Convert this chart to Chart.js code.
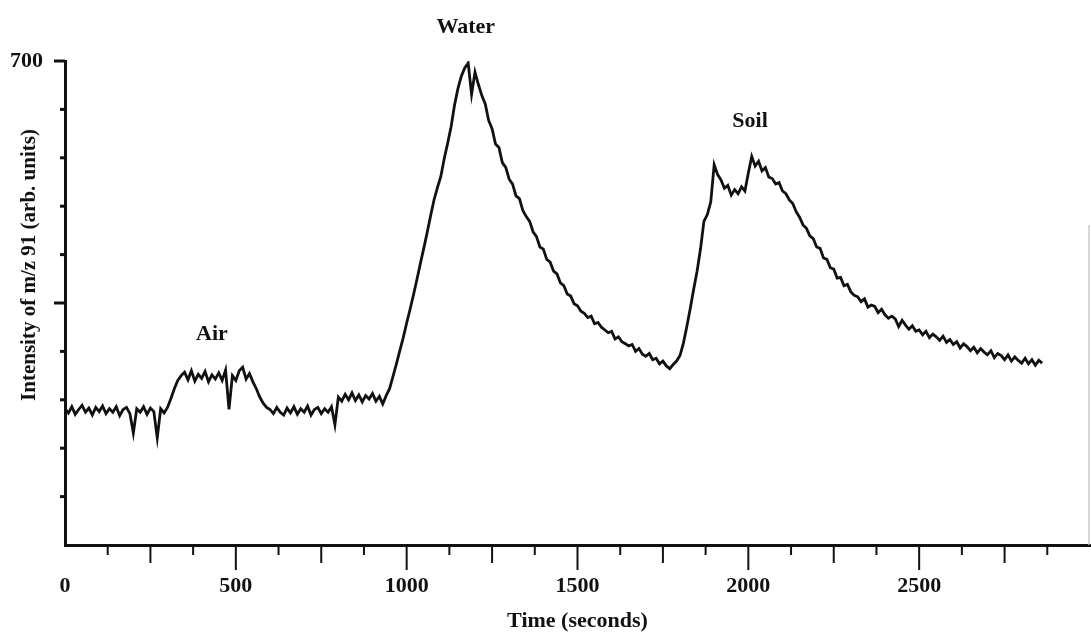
<!DOCTYPE html>
<html lang="en">
<head>
<meta charset="UTF-8">
<title>Intensity of m/z 91</title>
<script src="https://cdn.jsdelivr.net/npm/chart.js@4.4.0/dist/chart.umd.min.js"></script>
<style>
    * { margin: 0; padding: 0; box-sizing: border-box; }
    body { background: #fff; width: 1091px; height: 635px; overflow: hidden; }
    #trace { display: block; }
</style>
</head>
<body>
<canvas id="trace" width="1091" height="635"></canvas>

<script>
// sample times (s)
const timeSec = [
    0, 10, 20, 30, 40, 50, 60, 70, 80, 90, 100, 110, 120, 130, 140, 150, 160, 170, 180, 190,
    200, 210, 220, 230, 240, 250, 260, 270, 280, 290, 300, 310, 320, 330, 340, 350, 360, 370, 380, 390,
    400, 410, 420, 430, 440, 450, 460, 470, 480, 490, 500, 510, 520, 530, 540, 550, 560, 570, 580, 590,
    600, 610, 620, 630, 640, 650, 660, 670, 680, 690, 700, 710, 720, 730, 740, 750, 760, 770, 780, 790,
    800, 810, 820, 830, 840, 850, 860, 870, 880, 890, 900, 910, 920, 930, 940, 950, 960, 970, 980, 990,
    1000, 1010, 1020, 1030, 1040, 1050, 1060, 1070, 1080, 1090, 1100, 1110, 1120, 1130, 1140, 1150, 1160, 1170, 1180, 1190,
    1200, 1210, 1220, 1230, 1240, 1250, 1260, 1270, 1280, 1290, 1300, 1310, 1320, 1330, 1340, 1350, 1360, 1370, 1380, 1390,
    1400, 1410, 1420, 1430, 1440, 1450, 1460, 1470, 1480, 1490, 1500, 1510, 1520, 1530, 1540, 1550, 1560, 1570, 1580, 1590,
    1600, 1610, 1620, 1630, 1640, 1650, 1660, 1670, 1680, 1690, 1700, 1710, 1720, 1730, 1740, 1750, 1760, 1770, 1780, 1790,
    1800, 1810, 1820, 1830, 1840, 1850, 1860, 1870, 1880, 1890, 1900, 1910, 1920, 1930, 1940, 1950, 1960, 1970, 1980, 1990,
    2000, 2010, 2020, 2030, 2040, 2050, 2060, 2070, 2080, 2090, 2100, 2110, 2120, 2130, 2140, 2150, 2160, 2170, 2180, 2190,
    2200, 2210, 2220, 2230, 2240, 2250, 2260, 2270, 2280, 2290, 2300, 2310, 2320, 2330, 2340, 2350, 2360, 2370, 2380, 2390,
    2400, 2410, 2420, 2430, 2440, 2450, 2460, 2470, 2480, 2490, 2500, 2510, 2520, 2530, 2540, 2550, 2560, 2570, 2580, 2590,
    2600, 2610, 2620, 2630, 2640, 2650, 2660, 2670, 2680, 2690, 2700, 2710, 2720, 2730, 2740, 2750, 2760, 2770, 2780, 2790,
    2800, 2810, 2820, 2830, 2840, 2850, 2860
];

// m/z 91 intensity (arb. units)
const intensity = [
    // baseline
    197, 191, 200, 189, 196, 202, 192, 198, 188, 199, 193, 201, 190, 197, 192, 200, 187, 196, 199, 190,
    162, 197, 192, 200, 189, 198, 193, 155, 197, 191, 199,
    // air
    212, 226, 238, 245, 250, 239, 252, 237, 247, 241, 251, 236, 246, 240, 249, 238, 253, 196, 245, 238,
    252, 257, 240, 248, 236, 226, 214, 205, 199, 196,
    // baseline
    190, 199, 192, 188, 198, 191, 200, 189, 197, 192, 201, 188, 196, 199, 190, 197, 192, 200, 174,
    214, 208, 218, 210, 220, 209, 217, 207, 216, 211, 219, 208, 215, 204,
    // water
    216, 226, 244, 262, 281, 300, 321, 341, 362, 384, 407, 429, 452, 476, 499, 517, 533, 559, 581, 605,
    636, 660, 678, 690, 697,
    652, 684, 666, 650, 638, 614, 602, 580, 575, 553, 546, 529, 522, 505, 501, 484, 475, 468, 453, 446,
    431, 428, 413, 409, 396, 392, 379, 375, 363, 360, 349,
    346, 338, 335, 329, 331, 320, 322, 315, 311, 307, 309, 298, 301, 294, 291, 288, 290, 280, 284, 276,
    273, 277, 268, 270, 262, 266, 259, 255, 261,
    // soil
    266, 274, 292, 316, 342, 370, 396, 428, 468, 478, 496, 550, 536, 528, 516, 520, 506, 514, 508, 518,
    512, 538, 562, 548, 555, 541, 546, 532, 530, 522, 524, 512, 508, 499, 494, 482, 474, 463,
    458, 447, 443, 431, 429, 415, 413, 401, 399, 386, 387, 375, 377,
    366, 361, 359, 352, 356, 344, 347, 345, 336, 341, 333, 328, 331, 327, 316, 325, 318, 312, 317, 309,
    311, 304, 309, 300, 305, 301, 296, 302, 293, 297, 290, 294, 285, 291, 287, 281, 286, 278, 284, 279,
    275, 281, 271, 277, 274, 268, 275, 266, 272, 267, 263, 270, 262, 268, 260, 267, 263
];

const xLabelTicks = [0, 500, 1000, 1500, 2000, 2500];
const yLabelTicks = [700];

// peak names and where they sit (time, intensity)
const peakNames = ['Air', 'Water', 'Soil'];
const peakTimes = [430, 1173, 2005];
const peakLevels = [304, 749, 613];

const serif = "'Liberation Serif', 'Times New Roman', serif";

// tick marks, peak names, right frame edge and the y title
const axisMarks = {
    id: 'axisMarks',
    afterDraw(chart) {
        const { ctx, chartArea, scales: { x, y } } = chart;
        ctx.save();

        // faint right edge of the frame
        ctx.strokeStyle = '#c8c8c8';
        ctx.lineWidth = 1.5;
        ctx.beginPath();
        ctx.moveTo(chartArea.right - 1, 225);
        ctx.lineTo(chartArea.right - 1, chartArea.bottom);
        ctx.stroke();

        ctx.strokeStyle = '#111';
        ctx.lineWidth = 2;
        x.ticks.forEach(tk => {
            if (tk.value === 0 || tk.value === 3000) return;
            const px = x.getPixelForValue(tk.value);
            const len = tk.value % 500 === 0 ? 25 : (tk.value % 250 === 0 ? 18 : 10);
            ctx.beginPath();
            ctx.moveTo(px, chartArea.bottom);
            ctx.lineTo(px, chartArea.bottom + len);
            ctx.stroke();
        });

        ctx.lineWidth = 3;
        y.ticks.forEach(tk => {
            if (tk.value === 0) return;
            const py = y.getPixelForValue(tk.value);
            const len = (tk.value === 350 || tk.value === 700) ? 11 : 5;
            ctx.beginPath();
            ctx.moveTo(chartArea.left, py);
            ctx.lineTo(chartArea.left - len, py);
            ctx.stroke();
        });

        ctx.fillStyle = '#111';
        ctx.font = 'bold 22px ' + serif;
        ctx.textAlign = 'center';
        ctx.textBaseline = 'middle';
        peakNames.forEach((name, i) => {
            ctx.fillText(name, x.getPixelForValue(peakTimes[i]), y.getPixelForValue(peakLevels[i]));
        });

        ctx.font = 'bold 21px ' + serif;
        ctx.translate(30, 265);
        ctx.rotate(-Math.PI / 2);
        ctx.fillText('Intensity of m/z 91 (arb. units)', 0, 0);
        ctx.restore();
    }
};

new Chart(document.getElementById('trace'), {
    type: 'line',
    data: {
        datasets: [{
            data: timeSec.map((t, i) => ({ x: t, y: intensity[i] })),
            borderColor: '#111',
            borderWidth: 2.8,
            pointRadius: 0,
            tension: 0,
            fill: false
        }]
    },
    options: {
        responsive: false,
        animation: false,
        devicePixelRatio: 1,
        layout: { padding: { top: 61, right: 1, left: 0, bottom: 0 } },
        plugins: { legend: { display: false }, tooltip: { enabled: false } },
        scales: {
            x: {
                type: 'linear',
                min: 0,
                max: 3000,
                afterFit: scale => {
                    scale.height = 90;
                    scale.paddingLeft = 0;
                    scale.paddingRight = 0;
                },
                grid: { display: false, drawTicks: false },
                border: { display: true, color: '#111', width: 3 },
                ticks: {
                    stepSize: 125,
                    autoSkip: false,
                    maxRotation: 0,
                    padding: 28,
                    color: '#111',
                    font: { family: serif, size: 22, weight: 'bold' },
                    callback: v => xLabelTicks.includes(v) ? String(v) : ''
                },
                title: {
                    display: true,
                    text: 'Time (seconds)',
                    color: '#111',
                    padding: { top: 0, bottom: 0 },
                    font: { family: serif, size: 22, weight: 'bold' }
                }
            },
            y: {
                min: 0,
                max: 700,
                afterFit: scale => { scale.width = 65; },
                grid: { display: false, drawTicks: false },
                border: { display: true, color: '#111', width: 3 },
                ticks: {
                    stepSize: 70,
                    autoSkip: false,
                    padding: 22,
                    color: '#111',
                    font: { family: serif, size: 22, weight: 'bold' },
                    callback: v => yLabelTicks.includes(v) ? String(v) : ''
                }
            }
        }
    },
    plugins: [axisMarks]
});
</script>
</body>
</html>
